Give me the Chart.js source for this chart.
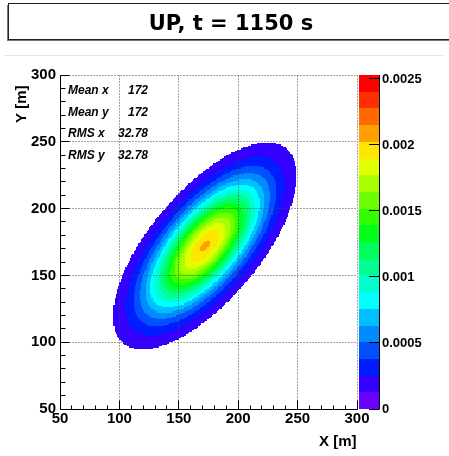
<!DOCTYPE html>
<html>
<head>
<meta charset="utf-8">
<script src="https://cdn.jsdelivr.net/npm/chart.js@4.4.1/dist/chart.umd.min.js"></script>
<style>
  html, body { margin: 0; padding: 0; background: #fff; }
</style>
</head>
<body>
<canvas id="plot" width="449" height="456"></canvas>
<script>
// stats box of the histogram
const statNames = ['Mean x', 'Mean y', 'RMS x', 'RMS y'];
const statValues = [172, 172, 32.78, 32.78];

// x-y correlation of the cloud and its highest bin content
const corrXY = 0.68;
const peakContent = 0.00204;

// histogram binning
const xRange = [50, 300];
const yRange = [50, 300];
const binWidth = 1;

// axis ticks
const xTicks = [50, 100, 150, 200, 250, 300];
const yTicks = [50, 100, 150, 200, 250, 300];
const zTicks = [0, 0.0005, 0.001, 0.0015, 0.002, 0.0025];
const zMax = 0.00253;

// contour colours, lowest level first
const palette = [
  '#6a00ff', '#3300ff', '#001cff', '#0050ff', '#008cff',
  '#00bfff', '#00ffff', '#00ffcc', '#00ff90', '#00ff5a',
  '#00ff1a', '#33ff00', '#70ff00', '#a8ff00', '#e0ff00',
  '#ffe600', '#ffa000', '#ff6a00', '#ff3000', '#ff0000'
];

const FONT = '"Liberation Sans", Arial, Helvetica, sans-serif';
const levelStep = zMax / palette.length;

// bin contents (2D gaussian with the mean / rms from the stats box)
function binContent(x, y) {
  const dx = (x - statValues[0]) / statValues[2];
  const dy = (y - statValues[1]) / statValues[3];
  const q = (dx * dx - 2 * corrXY * dx * dy + dy * dy) / (1 - corrXY * corrXY);
  return peakContent * Math.exp(-q / 2);
}

const bins = [];
for (let x = xRange[0]; x < xRange[1]; x += binWidth) {
  for (let y = yRange[0]; y < yRange[1]; y += binWidth) {
    const v = binContent(x + binWidth / 2, y + binWidth / 2);
    if (v >= levelStep) bins.push({x: x, y: y, v: v});
  }
}

function line(ctx, x0, y0, x1, y1) {
  ctx.beginPath();
  ctx.moveTo(x0, y0);
  ctx.lineTo(x1, y1);
  ctx.stroke();
}

const rootStyle = {
  id: 'rootStyle',

  beforeDatasetsDraw(chart) {
    const ctx = chart.ctx, xs = chart.scales.x, ys = chart.scales.y;
    ctx.save();
    bins.forEach(b => {
      const px0 = Math.round(xs.getPixelForValue(b.x));
      const px1 = Math.round(xs.getPixelForValue(b.x + binWidth));
      const py0 = Math.round(ys.getPixelForValue(b.y));
      const py1 = Math.round(ys.getPixelForValue(b.y + binWidth));
      const lvl = Math.min(palette.length - 1, Math.floor(b.v / levelStep));
      ctx.fillStyle = palette[lvl];
      ctx.fillRect(px0, py1, px1 - px0, py0 - py1);
    });
    ctx.restore();
  },

  afterDatasetsDraw(chart) {
    const ctx = chart.ctx, area = chart.chartArea;
    const xs = chart.scales.x, ys = chart.scales.y, zs = chart.scales.z;
    const L = Math.floor(area.left) + 0.5, R = Math.floor(area.right) + 0.5;
    const T = Math.floor(area.top) + 0.5, B = Math.floor(area.bottom) + 0.5;
    ctx.save();

    // dotted grid
    ctx.strokeStyle = '#444';
    ctx.lineWidth = 1;
    ctx.setLineDash([1, 2]);
    xTicks.slice(1).forEach(v => {
      const p = Math.floor(xs.getPixelForValue(v)) + 0.5;
      line(ctx, p, T, p, B);
    });
    yTicks.slice(1).forEach(v => {
      const p = Math.floor(ys.getPixelForValue(v)) + 0.5;
      line(ctx, L, p, R, p);
    });
    ctx.setLineDash([]);

    // axes with inner ticks
    ctx.strokeStyle = '#000';
    line(ctx, L, T, L, B);
    line(ctx, L, B, R, B);
    for (let v = xRange[0]; v <= xRange[1]; v += 10) {
      const p = Math.floor(xs.getPixelForValue(v)) + 0.5;
      line(ctx, p, B, p, B - (v % 50 === 0 ? 9 : 4));
    }
    for (let v = yRange[0]; v <= yRange[1]; v += 10) {
      const p = Math.floor(ys.getPixelForValue(v)) + 0.5;
      line(ctx, L, p, L + (v % 50 === 0 ? 9 : 5), p);
    }

    // colour palette
    const cx0 = Math.round(zs.left) + 2, cx1 = Math.round(zs.left) + 22;
    palette.forEach((c, i) => {
      const y0 = Math.round(zs.getPixelForValue(i * levelStep));
      const y1 = Math.round(zs.getPixelForValue((i + 1) * levelStep));
      ctx.fillStyle = c;
      ctx.fillRect(cx0, y1, cx1 - cx0, y0 - y1);
    });
    line(ctx, cx1 + 0.5, T - 0.5, cx1 + 0.5, B);
    zTicks.forEach(v => {
      const p = Math.floor(zs.getPixelForValue(v)) + 0.5;
      line(ctx, cx1, p, cx1 - 10, p);
    });

    // stats
    ctx.fillStyle = '#000';
    ctx.font = 'italic bold 12px ' + FONT;
    ctx.textBaseline = 'alphabetic';
    statNames.forEach((name, i) => {
      const by = 94 + i * 21.5;
      ctx.textAlign = 'left';
      ctx.fillText(name, 68, by);
      ctx.textAlign = 'right';
      ctx.fillText(String(statValues[i]), 148, by);
    });

    // axis titles
    ctx.font = 'bold 15px ' + FONT;
    ctx.textAlign = 'right';
    ctx.fillText('X [m]', R - 1, 446);
    ctx.save();
    ctx.translate(26, T + 10);
    ctx.rotate(-Math.PI / 2);
    ctx.fillText('Y [m]', 0, 0);
    ctx.restore();

    // title pave
    ctx.fillStyle = '#fff';
    ctx.fillRect(8, 3, 460, 37);
    ctx.strokeStyle = '#777';
    line(ctx, 7.5, 5, 7.5, 41);
    line(ctx, 7, 40.5, 449, 40.5);
    ctx.strokeStyle = '#222';
    ctx.strokeRect(8.5, 3.5, 460, 36);
    ctx.fillStyle = '#000';
    ctx.font = 'bold 21px "DejaVu Sans", sans-serif';
    ctx.textAlign = 'center';
    ctx.fillText('UP, t = 1150 s', 231, 29.5);

    // page rule
    ctx.strokeStyle = '#e4e4e4';
    line(ctx, 4, 55.5, 443, 55.5);

    ctx.restore();
  }
};

const tickFont = {family: FONT, size: 15, weight: 'bold'};

new Chart(document.getElementById('plot'), {
  type: 'scatter',
  data: {datasets: [{data: [], pointRadius: 0}]},
  plugins: [rootStyle],
  options: {
    responsive: false,
    animation: false,
    devicePixelRatio: 1,
    layout: {padding: {top: 75, left: 0, right: 0, bottom: 0}},
    plugins: {legend: {display: false}, tooltip: {enabled: false}},
    scales: {
      x: {
        type: 'linear', position: 'bottom', min: xRange[0], max: xRange[1],
        grid: {display: false, drawTicks: false}, border: {display: false},
        ticks: {font: tickFont, color: '#000', padding: 1, maxRotation: 0, autoSkip: false},
        afterBuildTicks: s => { s.ticks = xTicks.map(v => ({value: v})); },
        afterFit: s => { s.height = 47; }
      },
      y: {
        type: 'linear', position: 'left', min: yRange[0], max: yRange[1],
        grid: {display: false, drawTicks: false}, border: {display: false},
        ticks: {font: tickFont, color: '#000', padding: 4, autoSkip: false},
        afterBuildTicks: s => { s.ticks = yTicks.map(v => ({value: v})); },
        afterFit: s => { s.width = 60; }
      },
      z: {
        type: 'linear', position: 'right', min: 0, max: zMax,
        grid: {display: false, drawTicks: false}, border: {display: false},
        ticks: {
          font: {family: FONT, size: 13, weight: 'bold'}, color: '#000', padding: 25, autoSkip: false,
          callback: v => String(+v.toFixed(4))
        },
        afterBuildTicks: s => { s.ticks = zTicks.map(v => ({value: v})); },
        afterFit: s => { s.width = 92; }
      }
    }
  }
});
</script>
</body>
</html>
